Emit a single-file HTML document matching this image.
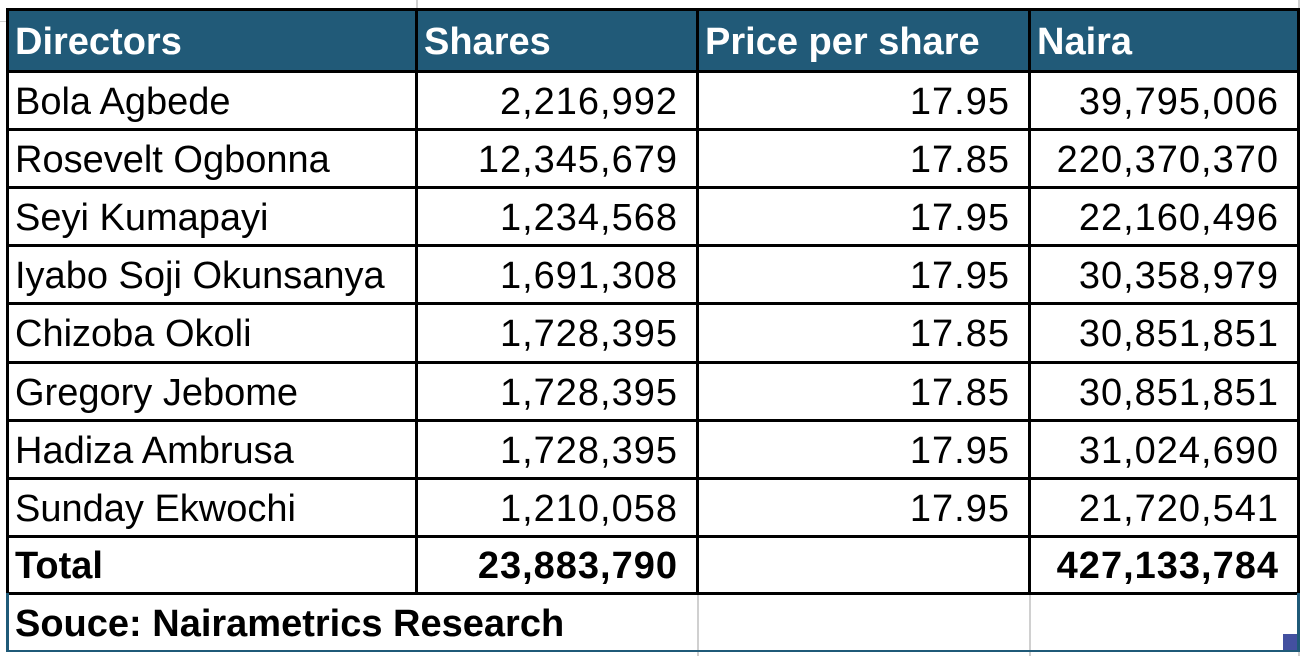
<!DOCTYPE html>
<html><head><style>
body{margin:0;width:1306px;height:656px;background:#fff;position:relative;overflow:hidden;font-family:"Liberation Sans",sans-serif;}
.c{position:absolute;box-sizing:border-box;font-size:38px;line-height:1;display:flex;align-items:center;padding:3px 20px 0 8px;color:#000;white-space:nowrap}
.r{justify-content:flex-end;letter-spacing:1px;padding-right:19px}
.h{background:#215a78;color:#fff;font-weight:bold;letter-spacing:0}
.b{font-weight:bold}
.l{position:absolute;background:#000}
.g{position:absolute;background:#d0d0d0}
</style></head><body>
<div id="t"></div>
<script>
var X=[7,416,697,1029,1298];
var Y=[9,71,129,187,245,303,362,420,478,536,593,651];
var rows=[["Directors","Shares","Price per share","Naira"],
["Bola Agbede","2,216,992","17.95","39,795,006"],
["Rosevelt Ogbonna","12,345,679","17.85","220,370,370"],
["Seyi Kumapayi","1,234,568","17.95","22,160,496"],
["Iyabo Soji Okunsanya","1,691,308","17.95","30,358,979"],
["Chizoba Okoli","1,728,395","17.85","30,851,851"],
["Gregory Jebome","1,728,395","17.85","30,851,851"],
["Hadiza Ambrusa","1,728,395","17.95","31,024,690"],
["Sunday Ekwochi","1,210,058","17.95","21,720,541"],
["Total","23,883,790","","427,133,784"]];
var h="";
for(var i=0;i<rows.length;i++){
 for(var j=0;j<4;j++){
  var cls="c"+(i==0?" h":(j>0?" r":""))+(i==9?" b":"");
  h+='<div class="'+cls+'" style="left:'+X[j]+'px;top:'+Y[i]+'px;width:'+(X[j+1]-X[j])+'px;height:'+(Y[i+1]-Y[i])+'px">'+rows[i][j]+'</div>';
 }
}
h+='<div class="c b" style="left:7px;top:593px;height:58px;width:700px">Souce: Nairametrics Research</div>';
h+='<div class="g" style="left:697px;top:593px;width:2px;height:63px"></div>';
h+='<div class="g" style="left:1029px;top:593px;width:2px;height:63px"></div>';
h+='<div class="g" style="left:0;top:21px;width:7px;height:1px"></div>';
h+='<div class="g" style="left:416px;top:0;width:2px;height:9px"></div>';
h+='<div class="g" style="left:1298px;top:0;width:2px;height:656px"></div>';
for(var i=0;i<=10;i++)h+='<div class="l" style="left:7px;top:'+(Y[i]-1)+'px;width:'+(1298-7+2)+'px;height:3px"></div>';
for(var j=0;j<5;j++)h+='<div class="l" style="left:'+(X[j]-1)+'px;top:8px;width:3px;height:'+(593-8)+'px"></div>';
h+='<div class="l" style="left:6px;top:593px;width:3px;height:59px;background:#1f5a78"></div>';
h+='<div class="l" style="left:1297px;top:593px;width:3px;height:59px;background:#1f5a78"></div>';
h+='<div class="l" style="left:6px;top:650px;width:1294px;height:2px;background:#1f5a78"></div>';
h+='<div class="l" style="left:1283px;top:634px;width:14px;height:16px;background:#4350a0"></div>';
document.getElementById("t").innerHTML=h;
</script>
</body></html>
